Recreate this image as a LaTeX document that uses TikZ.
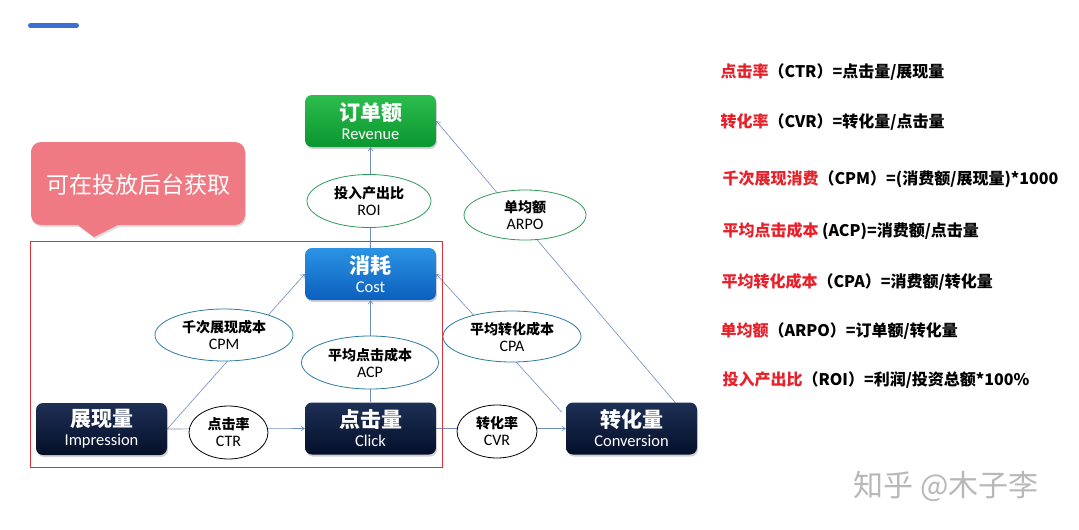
\documentclass[tikz,border=0pt]{standalone}
\usepackage{fontspec}
\setmainfont{Carlito}
\newfontfamily\cjk{Noto Sans CJK SC}
\usetikzlibrary{shadows,arrows.meta,shapes.geometric}
\pgfdeclarelayer{back}
\pgfdeclarelayer{bg}
\pgfsetlayers{back,bg,main}
\definecolor{linec}{HTML}{6F8DC2}
\definecolor{redt}{HTML}{E8202A}
\definecolor{pinkc}{HTML}{F07A84}
\definecolor{barc}{HTML}{3B6FD6}
\definecolor{framec}{HTML}{E0303A}
\definecolor{gtop}{HTML}{2DBD4E}
\definecolor{gbot}{HTML}{0A9630}
\definecolor{btop}{HTML}{2C93E4}
\definecolor{bbot}{HTML}{0B5FBE}
\definecolor{dtop}{HTML}{1E3055}
\definecolor{dbot}{HTML}{040F2A}
\definecolor{ovg}{HTML}{2E9A5A}
\definecolor{ovb}{HTML}{2C7AA0}
\tikzset{
  box/.style={rounded corners=7pt, minimum width=131pt, minimum height=52pt, inner sep=0pt,
    align=center, text=white, font=\fontsize{16.5}{19}\selectfont,
    drop shadow={shadow xshift=1pt, shadow yshift=-2pt, opacity=0.35}},
  greenbox/.style={box, top color=gtop, bottom color=gbot},
  bluebox/.style={box, top color=btop, bottom color=bbot},
  darkbox/.style={box, top color=dtop, bottom color=dbot},
  oval/.style={ellipse, draw, fill=white, line width=0.8pt, inner sep=0pt, align=center,
    font=\fontsize{16}{17}\selectfont},
  conn/.style={draw=linec, line width=0.6pt, -{Straight Barb[length=3.5pt,width=5pt]}},
}
\newcommand{\boxlbl}[2]{{\cjk\bfseries\fontsize{21}{19}\selectfont #1}\\#2}
\newcommand{\ovlbl}[2]{{\cjk\bfseries\fontsize{14}{17}\selectfont #1}\\#2}
\newcommand{\frm}[2]{{\cjk\bfseries\fontsize{16}{16}\selectfont\textcolor{redt}{#1}#2}}
\begin{document}
\begin{tikzpicture}[x=1pt,y=-1pt]
\begin{pgfonlayer}{back}
\fill[white] (0,0) rectangle (1079,530);
\end{pgfonlayer}
\useasboundingbox (0,0) rectangle (1079,530);
% top bar
\draw[barc, line width=5pt, line cap=round] (30.5,25.5) -- (76.5,25.5);
% callout
\fill[pinkc, drop shadow={shadow xshift=1pt, shadow yshift=-2pt, opacity=0.25}]
  (31,150) [rounded corners=10pt] -- (31,142) -- (245,142) -- (245,225) [sharp corners] -- (118,225) -- (94,237) -- (78,225) [rounded corners=10pt] -- (31,225) -- (31,150);
\node[text=white, font=\cjk\fontsize{23}{24}\selectfont] (call) at (138,185) {可在投放后台获取};
% red frame
\draw[draw=framec, line width=1pt] (30,241) rectangle (442,467);
% boxes
\node[greenbox] (rev) at (370.5,121) {\boxlbl{订单额}{Revenue}};
\node[bluebox] (cost) at (370.5,274) {\boxlbl{消耗}{Cost}};
\node[darkbox] (imp) at (101.5,429) {\boxlbl{展现量}{Impression}};
\node[darkbox] (clk) at (370.5,428.5) {\boxlbl{点击量}{Click}};
\node[darkbox] (conv) at (631.5,428.5) {\boxlbl{转化量}{Conversion}};
% ovals
\node[oval, draw=ovg, minimum width=124pt, minimum height=53pt] (roi) at (369,201) {\ovlbl{投入产出比}{ROI}};
\node[oval, draw=ovg, minimum width=122pt, minimum height=50pt] (arpo) at (525,215) {\ovlbl{单均额}{ARPO}};
\node[oval, draw=ovb, minimum width=138pt, minimum height=52pt] (cpm) at (224,335) {\ovlbl{千次展现成本}{CPM}};
\node[oval, draw=ovb, minimum width=137pt, minimum height=53pt] (acp) at (370,362.5) {\ovlbl{平均点击成本}{ACP}};
\node[oval, draw=ovb, minimum width=138pt, minimum height=51pt] (cpa) at (512,336.5) {\ovlbl{平均转化成本}{CPA}};
\node[oval, draw=black, minimum width=79pt, minimum height=53pt] (ctr) at (228.5,432.5) {\ovlbl{点击率}{CTR}};
\node[oval, draw=black, minimum width=80pt, minimum height=53pt] (cvr) at (497,431.5) {\ovlbl{转化率}{CVR}};
% connectors
\begin{pgfonlayer}{bg}
\draw[conn] (imp.east) -- (clk.west);
\draw[conn] (imp.east) -- (cost.west);
\draw[conn] (clk.north) -- (cost.south);
\draw[conn] (cost.north) -- (rev.south);
\draw[conn] (clk.east) -- (conv.west);
\draw[conn] ([xshift=-4pt,yshift=-10pt]conv.north west) -- (cost.east);
\draw[conn] (conv.east) -- (rev.east);
\end{pgfonlayer}
% formulas
\node[anchor=west] (f1) at (717,72) {\frm{点击率}{（CTR）=点击量/展现量}};
\node[anchor=west] (f2) at (717,122) {\frm{转化率}{（CVR）=转化量/点击量}};
\node[anchor=west] (f3) at (719,179) {\frm{千次展现消费}{（CPM）=(消费额/展现量)*1000}};
\node[anchor=west] (f4) at (719,231) {\frm{平均点击成本}{ (ACP)=消费额/点击量}};
\node[anchor=west] (f5) at (718,282) {\frm{平均转化成本}{（CPA）=消费额/转化量}};
\node[anchor=west] (f6) at (717,331) {\frm{单均额}{（ARPO）=订单额/转化量}};
\node[anchor=west] (f7) at (719,380) {\frm{投入产出比}{（ROI）=利润/投资总额*100\%}};
% watermark
\node[anchor=west, text=black!28, font=\cjk\fontsize{30}{30}\selectfont] (wm) at (850,486) {知乎 @木子李};
\end{tikzpicture}
\end{document}
